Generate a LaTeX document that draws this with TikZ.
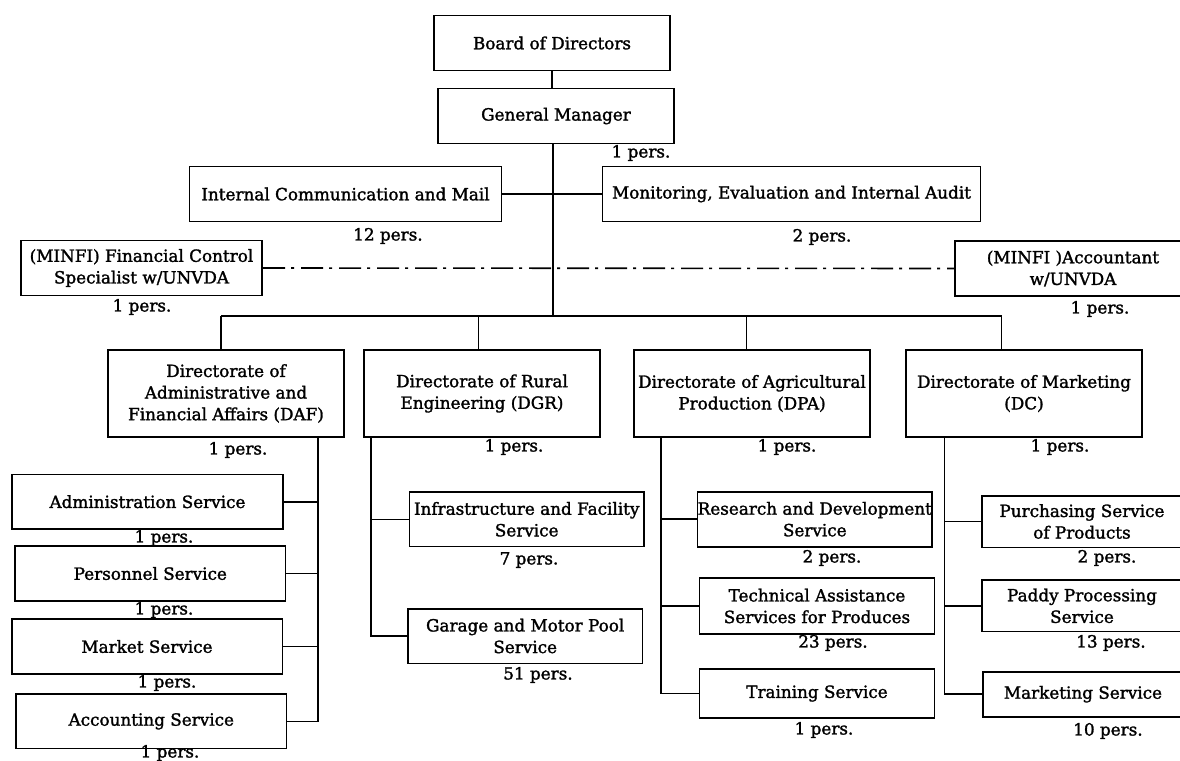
\documentclass[tikz,border=0pt]{standalone}
\usepackage{fontspec}
\setmainfont{DejaVu Serif}[FakeBold=1.6]
\usepackage{tikz}
\usetikzlibrary{positioning, calc}

\newcommand{\orgfont}{\fontsize{8.4pt}{10.8pt}\selectfont}

\begin{document}
\begin{tikzpicture}[x=0.5pt,y=-0.5pt,
	unit/.style={draw,line width=0.8pt,align=center,inner sep=0pt,font=\orgfont},
	persnote/.style={inner sep=0pt,font=\orgfont},
	link/.style={line width=0.8pt},
	dashdot line/.style={line width=0.8pt,dash pattern=on 11pt off 3pt on 1.5pt off 3.5pt}]
	\useasboundingbox (0,0) rectangle (1180,761);

	% top
	\node[unit,minimum width=118pt,minimum height=27.5pt] (bod) at (552,43) {Board of Directors};
	\node[unit,minimum width=118pt,minimum height=27.5pt] (gm) at (556,116) {General Manager};
	\node[persnote] at (641,153) {1 pers.};
	\node[unit,minimum width=156pt,minimum height=27.5pt] (icm) at (345.5,194) {Internal Communication and Mail};
	\node[persnote] at (388,236) {12 pers.};
	\node[unit,minimum width=189pt,minimum height=27.5pt] (mon) at (791.5,194) {Monitoring, Evaluation and Internal Audit};
	\node[persnote] at (822,237) {2 pers.};
	\node[unit,minimum width=120.75pt,minimum height=27.5pt] (fcs) at (141.5,268) {(MINFI) Financial Control\\Specialist w/UNVDA};
	\node[persnote] at (142,307) {1 pers.};
	\node[unit,minimum width=118pt,minimum height=27.5pt] (acc) at (1073,268.5) {(MINFI )Accountant\\w/UNVDA};
	\node[persnote] at (1100,309) {1 pers.};

	% directorates
	\node[unit,minimum width=118pt,minimum height=43.5pt] (daf) at (226,393.5) {Directorate of\\Administrative and\\Financial Affairs (DAF)};
	\node[persnote] at (238,450) {1 pers.};
	\node[unit,minimum width=118pt,minimum height=43.5pt] (dgr) at (482,393.5) {Directorate of Rural\\Engineering (DGR)};
	\node[persnote] at (514,447) {1 pers.};
	\node[unit,minimum width=117.85pt,minimum height=43.5pt] (dpa) at (752,393.5) {Directorate of Agricultural\\Production (DPA)};
	\node[persnote] at (787,447) {1 pers.};
	\node[unit,minimum width=118pt,minimum height=43.5pt] (dc) at (1024,393.5) {Directorate of Marketing\\(DC)};
	\node[persnote] at (1060,447) {1 pers.};

	% DAF services
	\node[unit,minimum width=135.5pt,minimum height=27.35pt] (adm) at (147.5,501.7) {Administration Service};
	\node[persnote] at (164,538) {1 pers.};
	\node[unit,minimum width=135.3pt,minimum height=27.5pt] (prs) at (150.3,573.5) {Personnel Service};
	\node[persnote] at (164,610) {1 pers.};
	\node[unit,minimum width=135.3pt,minimum height=27.5pt] (mkt) at (147,646.5) {Market Service};
	\node[persnote] at (167,683) {1 pers.};
	\node[unit,minimum width=135.3pt,minimum height=27.35pt] (acct) at (151.3,721.3) {Accounting Service};
	\node[persnote] at (170,753) {1 pers.};

	% DGR services
	\node[unit,minimum width=117.35pt,minimum height=27.35pt] (infra) at (526.7,519.3) {Infrastructure and Facility\\Service};
	\node[persnote] at (529,560) {7 pers.};
	\node[unit,minimum width=117.2pt,minimum height=27.3pt] (garage) at (525.2,636) {Garage and Motor Pool\\Service};
	\node[persnote] at (538,675) {51 pers.};

	% DPA services
	\node[unit,minimum width=117.25pt,minimum height=27.5pt] (rnd) at (814.8,519.2) {Research and Development\\Service};
	\node[persnote] at (832,558) {2 pers.};
	\node[unit,minimum width=117.4pt,minimum height=28pt] (tech) at (817,606) {Technical Assistance\\Services for Produces};
	\node[persnote] at (833,643) {23 pers.};
	\node[unit,minimum width=117.4pt,minimum height=24.5pt] (train) at (817,693.5) {Training Service};
	\node[persnote] at (824,730) {1 pers.};

	% DC services
	\node[unit,minimum width=100pt,minimum height=25.8pt] (purch) at (1082,521.5) {Purchasing Service\\of Products};
	\node[persnote] at (1107,558) {2 pers.};
	\node[unit,minimum width=100pt,minimum height=25.85pt] (paddy) at (1082,605.8) {Paddy Processing\\Service};
	\node[persnote] at (1111,643) {13 pers.};
	\node[unit,minimum width=100pt,minimum height=22.5pt] (mktg) at (1083,694.2) {Marketing Service};
	\node[persnote] at (1108,731) {10 pers.};

	% links
	\coordinate (hub) at (553,316);
	\draw[link] (bod.south) -- (bod.south |- gm.north);
	\draw[link] (gm.south -| hub) -- (hub);
	\draw[link] (icm.east) -- (mon.west);
	\draw[dashdot line] (fcs.east) -- (acc.west);

	\coordinate (b1) at (221,316);
	\coordinate (b2) at (478.5,316);
	\coordinate (b3) at (746.5,316);
	\coordinate (b4) at (1001.5,316);
	\draw[link] (b1) -- (b4);
	\foreach \b/\n in {b1/daf,b2/dgr,b3/dpa,b4/dc}
		\draw[link] (\b) -- (\b |- \n.north);

	\coordinate (s1) at (318,0);
	\coordinate (s2) at (370.7,0);
	\coordinate (s3) at (661,0);
	\coordinate (s4) at (944.4,0);
	\draw[link] (daf.south -| s1) |- (acct.east);
	\foreach \n in {adm,prs,mkt}
		\draw[link] (\n.east) -- (\n.east -| s1);
	\draw[link] (dgr.south -| s2) |- (garage.west);
	\draw[link] (infra.west) -- (infra.west -| s2);
	\draw[link] (dpa.south -| s3) |- (train.west);
	\foreach \n in {rnd,tech}
		\draw[link] (\n.west) -- (\n.west -| s3);
	\draw[link] (dc.south -| s4) |- (mktg.west);
	\foreach \n in {purch,paddy}
		\draw[link] (\n.west) -- (\n.west -| s4);
\end{tikzpicture}
\end{document}
